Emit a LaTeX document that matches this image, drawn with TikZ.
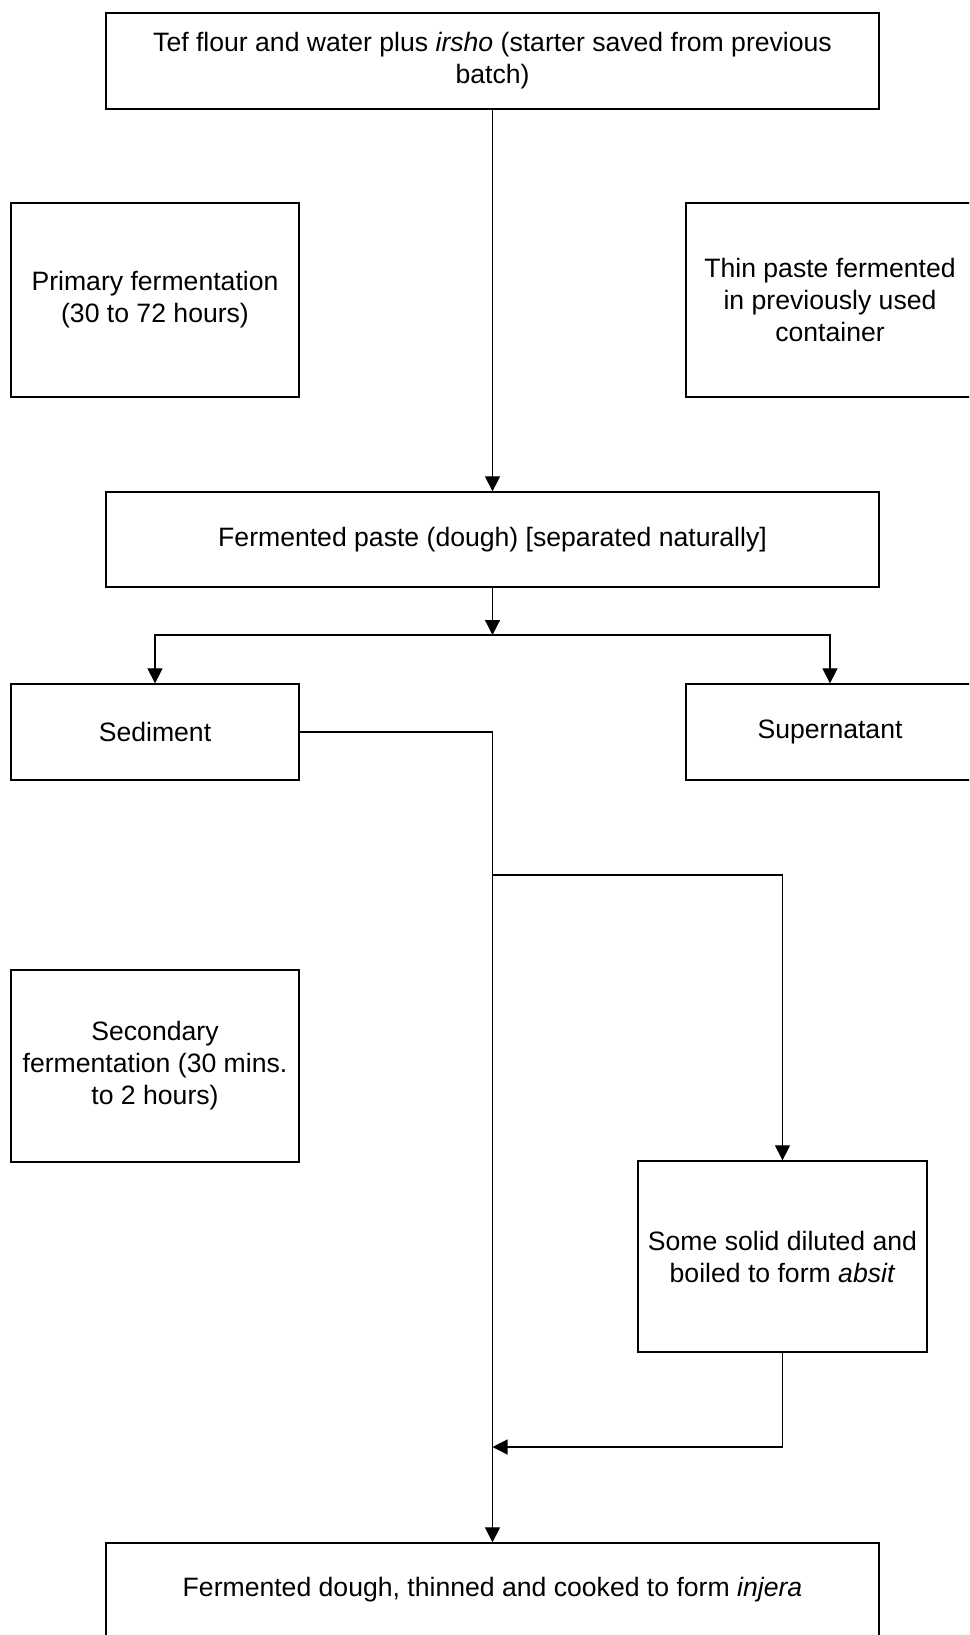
\documentclass[tikz,border=0pt]{standalone}
\usepackage{fontspec}
\setmainfont{Liberation Sans}
\usetikzlibrary{arrows.meta}
\begin{document}
\begin{tikzpicture}[x=1pt,y=-1pt,
  every node/.style={font=\fontsize{26.6}{32}\selectfont},
  box/.style={draw, line width=1.3pt, inner sep=0pt, align=center},
  wide/.style={box, minimum width=773pt},
  side/.style={box, minimum width=288pt},
  link/.style={line width=1.2pt},
  arr/.style={link, -{Triangle[width=15pt,length=15pt]}}]
\useasboundingbox (0,0) rectangle (969,1635);
\clip (0,0) rectangle (969,1635);

% main column
\node[wide, minimum height=96pt] (top) at (492.5,61)
  {Tef flour and water plus \textit{irsho} (starter saved from previous\\batch)};
\node[wide, minimum height=95pt] (ferm) at (492.5,539.5)
  {Fermented paste (dough) [separated naturally]};
\node[wide, minimum height=94pt] (final) at (492.5,1590)
  {Fermented dough, thinned and cooked to form \textit{injera}};

% side notes
\node[side, minimum height=194pt] (prim) at (155,300)
  {Primary fermentation\\(30 to 72 hours)};
\node[side, minimum height=194pt] (thin) at (830,300)
  {Thin paste fermented\\in previously used\\container};
\node[side, minimum height=192pt] (sec) at (155,1066)
  {Secondary\\fermentation (30 mins.\\to 2 hours)};

% separated fractions
\node[side, minimum height=96pt] (sed) at (155,732) {Sediment};
\node[side, minimum height=96pt] (sup) at (830,732) {Supernatant};
\node[box, minimum width=289pt, minimum height=191pt] (solid) at (782.5,1256.5)
  {Some solid diluted and\\boiled to form \textit{absit}};

% junction points on the connectors
\coordinate (split) at (492.5,635);
\coordinate (bend) at (492.5,732);
\coordinate (fork) at (492.5,875);
\coordinate (join) at (492.5,1447);

% connectors
\draw[arr] (top.south) -- (ferm.north);
\draw[arr] (ferm.south) -- (split);
\draw[arr] (split) -| (sed.north);
\draw[arr] (split) -| (sup.north);
\draw[link] (sed.east) -- (bend);
\draw[arr] (bend) -- (final.north);
\draw[arr] (fork) -| (solid.north);
\draw[arr] (solid.south) |- (join);
\end{tikzpicture}
\end{document}
